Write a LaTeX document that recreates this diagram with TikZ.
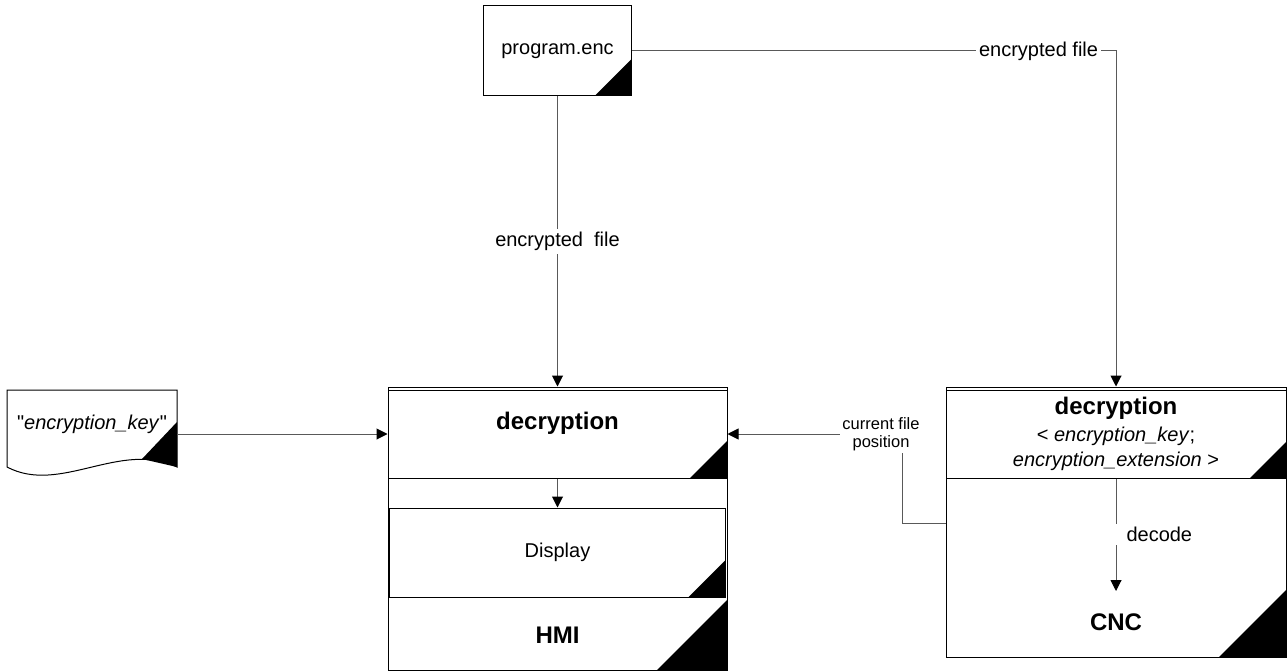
\documentclass[tikz,border=0pt]{standalone}
\usepackage{fontspec}
\setmainfont{Liberation Sans}
\newfontfamily\keyfont{Liberation Sans}
\usetikzlibrary{arrows.meta}

\newcommand{\txtnorm}{\fontsize{20}{25}\selectfont}
\newcommand{\txtbold}{\fontsize{24}{29}\selectfont\bfseries}
\newcommand{\txtsmall}{\fontsize{16.5}{18.5}\selectfont}

\begin{document}
\begin{tikzpicture}[x=1pt,y=-1pt,
  boxnode/.style={draw=black, line width=1pt, inner sep=0pt, font=\txtnorm},
  tri/.style={path picture={\fill (path picture bounding box.south east) -- ++(-#1,0pt) -- ++(#1,#1) -- cycle;}},
  conn/.style={draw=black!65, line width=1pt, -{Triangle[length=11pt,width=11pt,color=black]}},
  lbl/.style={fill=white, font=\txtnorm, inner sep=3pt}]
  \useasboundingbox (0,0) rectangle (1287,671);
  % program file
  \node[boxnode, tri=37pt, minimum width=148pt, minimum height=90pt] (prog) at (557.5,51) {program.enc};
  % key document
  \node[font=\keyfont\txtnorm, minimum width=170pt, minimum height=84pt, inner sep=0pt] (keydoc) at (92,424) {"\textit{encryption\_key}"};
  \draw[line width=1pt] (7,390) -- (177,390) -- (177,467) .. controls (120,440) and (60,495) .. (7,467) -- cycle;
  \fill (177,422) -- (177,467) -- (142,459) -- cycle;
  % HMI
  \node[boxnode, tri=70pt, minimum width=339pt, minimum height=283pt] (hmi) at (557.5,528.5) {};
  \node[boxnode, tri=37pt, minimum width=339pt, minimum height=88pt] (dec1) at (557.5,434) {};
  \node[font=\txtbold] (dec1lbl) at (557.5,423) {decryption};
  \node[boxnode, tri=37pt, minimum width=336pt, minimum height=89pt] (disp) at (557.5,552.5) {Display};
  \node[font=\txtbold] (hmilbl) at (557.5,635) {HMI};
  % CNC
  \node[boxnode, tri=67pt, minimum width=340pt, minimum height=270pt] (cnc) at (1116,522) {};
  \node[boxnode, tri=36pt, minimum width=340pt, minimum height=88pt, align=center] (dec2) at (1116,434)
    {{\txtbold decryption}\\[2pt] < \textit{encryption\_key};\\ \textit{encryption\_extension} >};
  \node[font=\txtbold] (cnclbl) at (1116,622) {CNC};
  % connectors
  \draw[conn] (prog) -- node[lbl] {encrypted\ \ file} (hmi);
  \draw[conn] (prog.east) -| node[lbl, pos=0.42] {encrypted file} (cnc.north);
  \draw[conn] (keydoc.east |- dec1.west) -- (dec1.west);
  \draw[conn] (dec1) -- (disp);
  \coordinate (curpos) at (946,523);
  \draw[conn] (curpos) -- ++(-44,0) |- (dec1.east);
  \node[lbl, font=\txtsmall, align=center, inner sep=2pt] (curlbl) at (881,434) {current file\\position};
  \coordinate (cnctop) at (1116,591);
  \draw[conn] (dec2.south) -- node[lbl, anchor=west, xshift=-6pt, inner xsep=16pt] {decode} (cnctop);
\end{tikzpicture}
\end{document}
